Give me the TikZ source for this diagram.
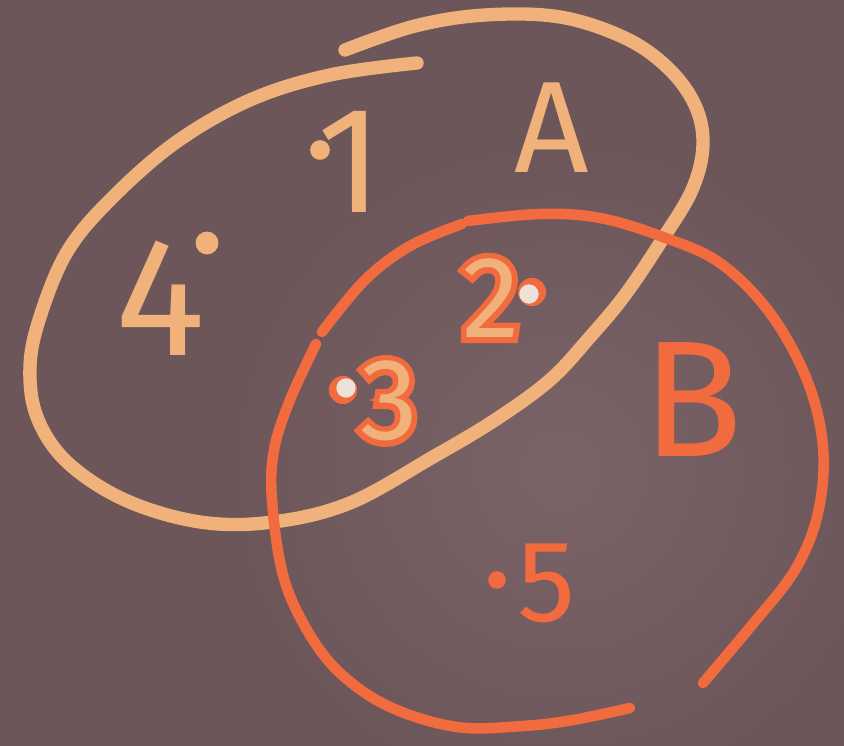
\documentclass[tikz,border=0pt]{standalone}
\usepackage{fontspec}
\setmainfont{Fira Sans}
\newfontfamily\rimfont[FakeBold=10]{Fira Sans}
\usepackage{xcolor}
\definecolor{board}{HTML}{6C5659}
\definecolor{boardlight}{HTML}{7A6467}
\definecolor{chalkpeach}{HTML}{F0B27A}
\definecolor{chalkred}{HTML}{F26B3E}
\definecolor{chalkwhite}{HTML}{EDE2DA}
% a peach numeral with a red chalk rim
\newcommand{\rimmed}[1]{\rlap{\textcolor{chalkred}{\rimfont #1}}\textcolor{chalkpeach}{#1}}

\begin{document}
\begin{tikzpicture}[x=0.01cm, y=-0.01cm,
    lineA/.style={chalkpeach, line width=3.8pt, line cap=round, line join=round},
    lineB/.style={chalkred, line width=3pt, line cap=round, line join=round},
    numA/.style={text=chalkpeach, inner sep=0pt},
    numB/.style={text=chalkred, inner sep=0pt},
    dotA/.style={circle, fill=chalkpeach, inner sep=0pt, minimum size=#1},
    dotB/.style={circle, fill=chalkred, inner sep=0pt, minimum size=#1},
    dotW/.style={circle, fill=chalkwhite, inner sep=0pt, minimum size=#1}]
        \useasboundingbox (0,0) rectangle (844,746);
        \fill[board] (0,0) rectangle (844,746);
        \shade[inner color=boardlight, outer color=board] (560,470) circle[radius=3.3cm];
        % set A
        \draw[lineA] plot[smooth, tension=0.6] coordinates {(345,50) (415,26) (485,15) (560,17) (625,38) (668,68) (695,105) (703,145) (692,190) (662,240) (625,295) (590,337) (550,380) (495,420) (433,457) (350,503) (273,522) (200,522) (125,500) (67,462) (37,417) (30,367) (40,317) (67,252) (110,200) (175,143) (250,100) (330,75) (417,63)};
        % set B, three strokes
        \draw[lineB] plot[smooth, tension=0.6] coordinates {(462,224) (410,246) (365,280) (322,332)};
        \draw[lineB] plot[smooth, tension=0.6] coordinates {(468,221) (540,214) (600,218) (663,237) (720,263) (770,313) (807,380) (823,447) (818,513) (795,570) (752,625) (703,683)};
        \draw[lineB] plot[smooth, tension=0.6] coordinates {(316,344) (290,400) (274,450) (272,500) (283,575) (307,630) (340,673) (390,707) (457,727) (523,726) (573,720) (630,708)};
        % labels
        \node[numA, font=\fontsize{37}{37}\selectfont] (labA) at (552,128) {A};
        \node[numB, font=\fontsize{47}{47}\selectfont] (labB) at (693,400) {B};
        % elements only in A
        \node[dotA=5.6pt] (dot1) at (320,150) {};
        \node[numA, font=\fontsize{43}{43}\selectfont] (one) at (350,162) {1};
        \node[numA, font=\fontsize{48}{48}\selectfont] (four) at (160,298) {4};
        \node[dotA=6.5pt] (dot4) at (207,243) {};
        % elements in A and B
        \node[inner sep=0pt, font=\fontsize{33}{33}\selectfont] (two) at (491,298) {\rimmed{2}};
        \node[inner sep=0pt, font=\fontsize{33}{33}\selectfont] (three) at (389,401) {\rimmed{3}};
        \node[dotB=8pt] (dot2h) at (532,292) {};
        \node[dotW=5.5pt] (dot2) at (529,294) {};
        \node[dotB=8pt] (dot3h) at (343,390) {};
        \node[dotW=5.5pt] (dot3) at (346,388) {};
        % element only in B
        \node[dotB=5pt] (dot5) at (497,580) {};
        \node[numB, font=\fontsize{33}{33}\selectfont] (five) at (547,583) {5};
\end{tikzpicture}
\end{document}
